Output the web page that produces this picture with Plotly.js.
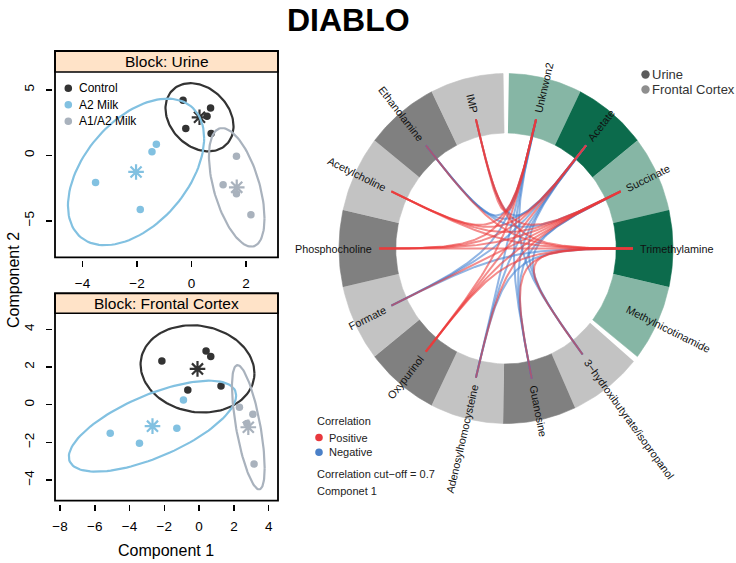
<!DOCTYPE html>
<html><head><meta charset="utf-8">
<script src="https://cdn.plot.ly/plotly-3.0.1.min.js"></script>
<style>html,body{margin:0;padding:0;background:#fff;} #chart{width:736px;height:563px;}</style>
</head><body><div id="chart"></div>
<script>
// ================= DATA =================
const groupNames = ['Control', 'A2 Milk', 'A1/A2 Milk'];

// Block: Urine (component 1 / component 2 scores)
const urineCtrlX = [-0.31, -0.21, 0.70, 0.57, 0.72];
const urineCtrlY = [4.21, 2.04, 3.62, 2.98, 1.66];
const urineA2X = [-1.29, -1.45, -3.52, -1.88];
const urineA2Y = [0.84, 0.28, -2.07, -4.13];
const urineA1A2X = [1.65, 1.16, 1.65, 2.18];
const urineA1A2Y = [-0.08, -2.24, -2.93, -4.54];

// Block: Frontal Cortex
const cortexCtrlX = [-2.14, 0.40, 0.67, -0.65, 1.26];
const cortexCtrlY = [2.32, 2.85, 2.55, 0.78, 0.99];
const cortexA2X = [-5.11, -3.43, -1.28, -0.90];
const cortexA2Y = [-1.52, -2.05, -1.25, 0.25];
const cortexA1A2X = [2.32, 3.09, 3.16, 2.75];
const cortexA1A2Y = [-0.14, -0.51, -3.15, -1.00];

const urineXTicks = [-4, -2, 0, 2];
const urineYTicks = [-5, 0, 5];
const cortexXTicks = [-8, -6, -4, -2, 0, 2, 4];
const cortexYTicks = [-4, -2, 0, 2, 4];

// Circos variables
const blockNames = ['Urine', 'Frontal Cortex'];
const urineVars = ['Unknwon2', 'Acetate', 'Succinate', 'Trimethylamine', 'Methylnicotinamide'];
const cortexVars = ['3\u2212hydroxibutyrate/isopropanol', 'Guanosine', 'Adenosylhomocysteine', 'Oxypurinol',
  'Formate', 'Phosphocholine', 'Acetylcholine', 'Ethanolamine', 'IMP'];

// Links above the 0.7 cut-off (urine variable, cortex variable, sign of correlation)
const linkUrine = [
  'Unknwon2','Unknwon2','Unknwon2','Unknwon2','Unknwon2','Unknwon2','Unknwon2','Unknwon2','Unknwon2',
  'Acetate','Acetate','Acetate','Acetate','Acetate','Acetate','Acetate','Acetate','Acetate',
  'Succinate','Succinate','Succinate','Succinate','Succinate','Succinate','Succinate','Succinate','Succinate',
  'Trimethylamine','Trimethylamine','Trimethylamine','Trimethylamine','Trimethylamine','Trimethylamine','Trimethylamine','Trimethylamine','Trimethylamine'];
const linkCortex = [
  '3\u2212hydroxibutyrate/isopropanol','Guanosine','Adenosylhomocysteine','Oxypurinol','Formate','Phosphocholine','Acetylcholine','Ethanolamine','IMP',
  '3\u2212hydroxibutyrate/isopropanol','Guanosine','Adenosylhomocysteine','Oxypurinol','Formate','Phosphocholine','Acetylcholine','Ethanolamine','IMP',
  '3\u2212hydroxibutyrate/isopropanol','Guanosine','Adenosylhomocysteine','Oxypurinol','Formate','Phosphocholine','Acetylcholine','Ethanolamine','IMP',
  '3\u2212hydroxibutyrate/isopropanol','Guanosine','Adenosylhomocysteine','Oxypurinol','Formate','Phosphocholine','Acetylcholine','Ethanolamine','IMP'];
const linkSign = [
  -1, -1, -1, 1, -1, 1, 1, -1, 1,
  -1, -1, -1, 1, -1, 1, 1, -1, -1,
  -1, -1, 1, 1, 1, 1, 1, -1, 1,
  1, 1, -1, 1, -1, 1, 1, 1, 1];

// ================= STYLE / GEOMETRY =================
const W = 736, H = 563;
const FONT = 'Liberation Sans, Arial, sans-serif';
const groupColors = ['#333333', '#82C1E1', '#A9B2BD'];
const urineShades = ['#86B6A5', '#0C6B4C'];
const cortexShades = ['#C3C3C3', '#808080'];
const posColor = 'rgba(236,56,56,0.58)';
const negColor = 'rgba(66,128,208,0.58)';
const T95 = Math.sqrt(5.991464547);

const X = px => px / W;
const Y = py => (H - py) / H;

// panel boxes (pixels)
const P1 = {l: 55, r: 278, stripTop: 51, top: 72, bottom: 257.3};
const P2 = {l: 55, r: 278, stripTop: 293.3, top: 313.3, bottom: 500.7};

// circos geometry (pixels)
const cx = 506, cy = 248.5, Rx = 167, Ry = 175;
const rInner = 0.66, rLink = 0.76, rLabel = 0.80, gapDeg = 2, ctrlK = 0.05;
const c3x0 = 0.40;
const x3range = [(c3x0 * W - cx) / Rx, (W - cx) / Rx];
const y3range = [-(H - cy) / Ry, cy / Ry];

const traces = [];
const mean = a => a.reduce((s, v) => s + v, 0) / a.length;

function ellipsePts(xs, ys) {
  const n = xs.length, mx = mean(xs), my = mean(ys);
  let sxx = 0, syy = 0, sxy = 0;
  for (let i = 0; i < n; i++) {
    sxx += (xs[i] - mx) ** 2; syy += (ys[i] - my) ** 2; sxy += (xs[i] - mx) * (ys[i] - my);
  }
  sxx /= n - 1; syy /= n - 1; sxy /= n - 1;
  const a = Math.sqrt(sxx), b = sxy / a, c = Math.sqrt(Math.max(syy - b * b, 0));
  const ex = [], ey = [];
  for (let k = 0; k <= 120; k++) {
    const p = 2 * Math.PI * k / 120;
    ex.push(mx + T95 * a * Math.cos(p));
    ey.push(my + T95 * (b * Math.cos(p) + c * Math.sin(p)));
  }
  return {ex, ey, mx, my};
}

function addPanel(sets, xa, ya) {
  sets.forEach((s, g) => {
    const e = ellipsePts(s[0], s[1]);
    traces.push({x: e.ex, y: e.ey, xaxis: xa, yaxis: ya, mode: 'lines', line: {color: groupColors[g], width: 2.2},
      hoverinfo: 'skip', showlegend: false});
    traces.push({x: s[0], y: s[1], xaxis: xa, yaxis: ya, mode: 'markers', name: groupNames[g],
      marker: {color: groupColors[g], size: 7.5}, hoverinfo: 'skip', showlegend: false});
    traces.push({x: [e.mx], y: [e.my], xaxis: xa, yaxis: ya, mode: 'markers',
      marker: {symbol: 'asterisk-open', size: 13, color: groupColors[g], line: {color: groupColors[g], width: 2.2}},
      hoverinfo: 'skip', showlegend: false});
  });
}
addPanel([[urineCtrlX, urineCtrlY], [urineA2X, urineA2Y], [urineA1A2X, urineA1A2Y]], 'x', 'y');
addPanel([[cortexCtrlX, cortexCtrlY], [cortexA2X, cortexA2Y], [cortexA1A2X, cortexA1A2Y]], 'x2', 'y2');

// ---- circos ring ----
const nVars = urineVars.length + cortexVars.length;
const segDeg = (360 - 2 * gapDeg) / nVars;
const varAngle = {};
const segs = [];
let a = 90 - gapDeg / 2;
urineVars.forEach((v, i) => { segs.push({v, a0: a, a1: a - segDeg, col: urineShades[i % 2]}); a -= segDeg; });
a -= gapDeg;
cortexVars.forEach((v, i) => { segs.push({v, a0: a, a1: a - segDeg, col: cortexShades[i % 2]}); a -= segDeg; });
const rad = d => d * Math.PI / 180;
segs.forEach(s => {
  varAngle[s.v] = (s.a0 + s.a1) / 2;
  const xs = [], ys = [];
  for (let k = 0; k <= 30; k++) { const t = rad(s.a0 + (s.a1 - s.a0) * k / 30); xs.push(Math.cos(t)); ys.push(Math.sin(t)); }
  for (let k = 30; k >= 0; k--) { const t = rad(s.a0 + (s.a1 - s.a0) * k / 30); xs.push(rInner * Math.cos(t)); ys.push(rInner * Math.sin(t)); }
  traces.push({x: xs, y: ys, xaxis: 'x3', yaxis: 'y3', mode: 'lines', fill: 'toself', fillcolor: s.col,
    line: {color: s.col, width: 0.6}, hoverinfo: 'skip', showlegend: false});
});

// ---- links (cubic bezier pulled toward the centre) ----
const order = [];
linkSign.forEach((sg, i) => { if (sg < 0) order.push(i); });
linkSign.forEach((sg, i) => { if (sg > 0) order.push(i); });
order.forEach(i => {
  const ta = rad(varAngle[linkUrine[i]]), tb = rad(varAngle[linkCortex[i]]);
  const ax = rLink * Math.cos(ta), ay = rLink * Math.sin(ta), bx = rLink * Math.cos(tb), by = rLink * Math.sin(tb);
  const xs = [], ys = [];
  for (let k = 0; k <= 100; k++) {
    const t = k / 100, u = 1 - t;
    const wa = u * u * u + 3 * u * u * t * ctrlK, wb = t * t * t + 3 * u * t * t * ctrlK;
    xs.push(wa * ax + wb * bx); ys.push(wa * ay + wb * by);
  }
  traces.push({x: xs, y: ys, xaxis: 'x3', yaxis: 'y3', mode: 'lines',
    line: {color: linkSign[i] > 0 ? posColor : negColor, width: 2}, hoverinfo: 'skip', showlegend: false});
});

// ---- annotations ----
const ann = [];
const ctx = document.createElement('canvas').getContext('2d');
const LBL = 10.8;
ctx.font = LBL + 'px "Liberation Sans"';
segs.forEach(s => {
  const th = rad(varAngle[s.v]);
  const dxp = Rx * Math.cos(th), dyp = Ry * Math.sin(th);
  const len = Math.hypot(dxp, dyp), ux = dxp / len, uy = dyp / len;
  const w = ctx.measureText(s.v).width;
  const sx = rLabel * dxp + ux * w / 2, sy = rLabel * dyp + uy * w / 2;
  const phi = Math.atan2(dyp, dxp) * 180 / Math.PI;
  let ang = Math.cos(th) >= 0 ? -phi : 180 - phi;
  if (ang > 180) ang -= 360;
  if (ang < -180) ang += 360;
  ann.push({x: sx / Rx, y: sy / Ry, xref: 'x3', yref: 'y3', text: s.v, showarrow: false, textangle: ang,
    xanchor: 'center', yanchor: 'middle', font: {family: FONT, size: LBL, color: '#111'}});
});

function txt(t, px, py, size, opts) {
  return Object.assign({x: X(px), y: Y(py), xref: 'paper', yref: 'paper', text: t, showarrow: false,
    xanchor: 'left', yanchor: 'middle', font: {family: FONT, size: size, color: '#000'}}, opts || {});
}
ann.push(txt('<b>DIABLO</b>', 348, 20, 32, {xanchor: 'center'}));
ann.push(txt('Block: Urine', (P1.l + P1.r) / 2, (P1.stripTop + P1.top) / 2, 15.5, {xanchor: 'center'}));
ann.push(txt('Block: Frontal Cortex', (P2.l + P2.r) / 2, (P2.stripTop + P2.top) / 2, 15.5, {xanchor: 'center'}));
ann.push(txt('Component 1', 166, 550, 16, {xanchor: 'center'}));
ann.push(txt('Component 2', 13, 280, 16, {xanchor: 'center', textangle: -90}));
const legY = [88.3, 104.8, 121.3];
groupNames.forEach((g, i) => ann.push(txt(g, 77, legY[i], 12)));
ann.push(txt(blockNames[0], 650, 74.5, 13, {font: {family: FONT, size: 13, color: '#333'}}));
ann.push(txt(blockNames[1], 650, 89.5, 13, {font: {family: FONT, size: 13, color: '#333'}}));
const g3 = {family: FONT, size: 11, color: '#222'};
ann.push(txt('Correlation', 315, 421, 11, {font: g3}));
ann.push(txt('Positive', 327, 437.5, 11, {font: g3}));
ann.push(txt('Negative', 327, 452.3, 11, {font: g3}));
ann.push(txt('Correlation cut\u2212off = 0.7', 315, 473.5, 11, {font: g3}));
ann.push(txt('Componet 1', 315, 491, 11, {font: g3}));

// ---- shapes ----
const shapes = [];
function rect(x0, y0, x1, y1, fill, lw) {
  return {type: 'rect', xref: 'paper', yref: 'paper', x0: X(x0), x1: X(x1), y0: Y(y1), y1: Y(y0),
    fillcolor: fill, line: {color: '#000', width: lw}, layer: 'above'};
}
function dot(px, py, r, col) {
  return {type: 'circle', xref: 'paper', yref: 'paper', x0: X(px - r), x1: X(px + r), y0: Y(py + r), y1: Y(py - r),
    fillcolor: col, line: {width: 0}, layer: 'above'};
}
[P1, P2].forEach(p => {
  shapes.push(rect(p.l, p.stripTop, p.r, p.top, '#FFE3C8', 1.6));
  shapes.push(rect(p.l, p.stripTop, p.r, p.bottom, 'rgba(0,0,0,0)', 1.8));
});
groupNames.forEach((g, i) => shapes.push(dot(68.3, legY[i], 3.8, groupColors[i])));
shapes.push(dot(645.5, 74.5, 4.2, '#5C5C5C'));
shapes.push(dot(645.5, 89.5, 4.2, '#8E8E8E'));
shapes.push(dot(319, 437.5, 3.8, '#E8383D'));
shapes.push(dot(319, 452.3, 3.8, '#4A80C8'));

// ---- axes ----
function axis(extra) {
  return Object.assign({showgrid: false, zeroline: false, showline: false, ticks: 'outside', ticklen: 6,
    tickwidth: 1.5, tickcolor: '#000', ticklabelstandoff: 4,
    tickfont: {family: FONT, size: 13.5, color: '#000'}, fixedrange: true}, extra);
}
const layout = {
  width: W, height: H, margin: {l: 0, r: 0, t: 0, b: 0}, paper_bgcolor: '#fff', plot_bgcolor: 'rgba(0,0,0,0)',
  showlegend: false,
  xaxis: axis({domain: [X(P1.l), X(P1.r)], range: [(P1.l - 191.5) / 27.25, (P1.r - 191.5) / 27.25],
    tickvals: urineXTicks, anchor: 'free', position: Y(P1.bottom + 3)}),
  yaxis: axis({domain: [Y(P1.bottom), Y(P1.top)], range: [(155.3 - P1.bottom) / 13.1, (155.3 - P1.top) / 13.1],
    tickvals: urineYTicks, anchor: 'free', position: X(P1.l - 3), tickangle: -90, ticklabelstandoff: 7}),
  xaxis2: axis({domain: [X(P2.l), X(P2.r)], range: [(P2.l - 199.1) / 17.39, (P2.r - 199.1) / 17.39],
    tickvals: cortexXTicks, anchor: 'free', position: Y(P2.bottom + 3)}),
  yaxis2: axis({domain: [Y(P2.bottom), Y(P2.top)], range: [(404.65 - P2.bottom) / 18.84, (404.65 - P2.top) / 18.84],
    tickvals: cortexYTicks, anchor: 'free', position: X(P2.l - 3), tickangle: -90, ticklabelstandoff: 7}),
  xaxis3: {domain: [c3x0, 1], range: x3range, visible: false, anchor: 'y3', fixedrange: true},
  yaxis3: {domain: [0, 1], range: y3range, visible: false, anchor: 'x3', fixedrange: true},
  annotations: ann,
  shapes: shapes
};
Plotly.newPlot('chart', traces, layout, {staticPlot: true, displayModeBar: false});
</script>
</body></html>
